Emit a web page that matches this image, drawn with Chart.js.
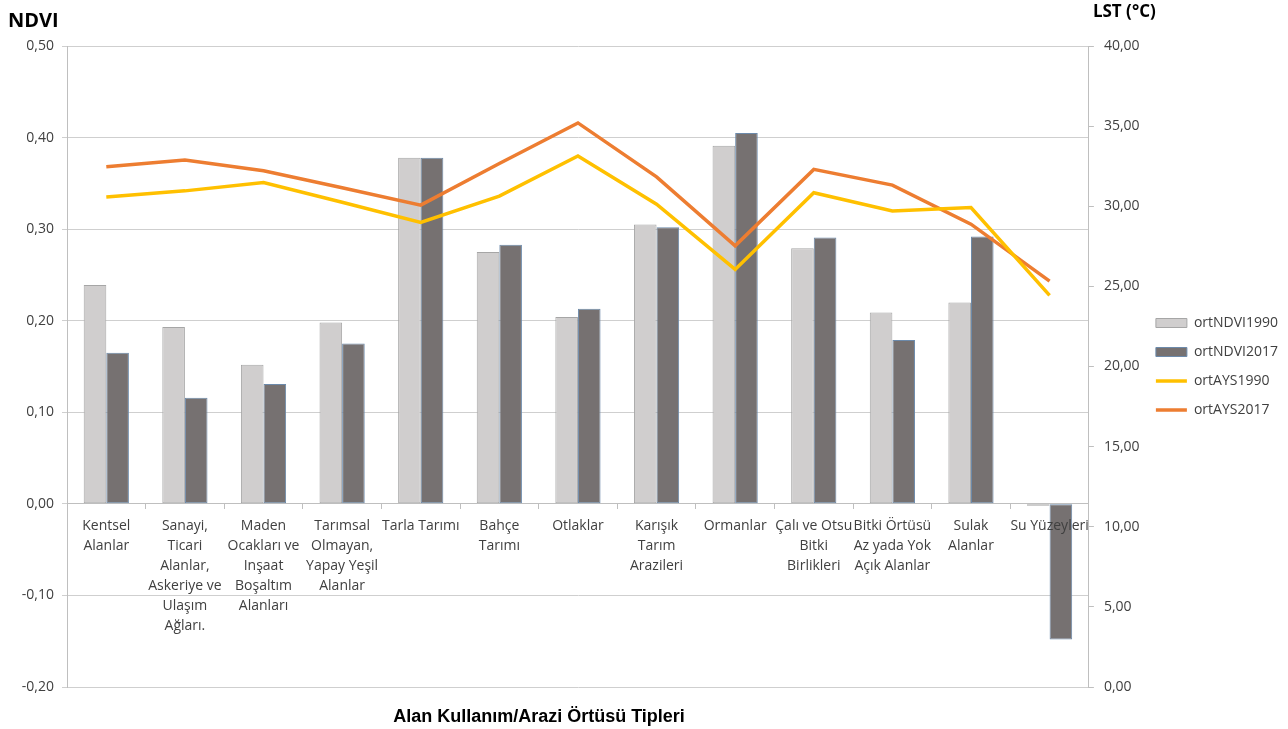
<!DOCTYPE html>
<html>
<head>
<meta charset="utf-8">
<script src="https://cdn.jsdelivr.net/npm/chart.js@4.4.1/dist/chart.umd.min.js"></script>
<style>
  html,body{margin:0;padding:0;background:#fff}
  #wrap{width:1288px;height:729px;position:relative}
</style>
</head>
<body>
<div id="wrap"><canvas id="chart"></canvas></div>
<script>
// ===== data =====
const categories=[
  ['Kentsel','Alanlar'],
  ['Sanayi,','Ticari','Alanlar,','Askeriye ve','Ulaşım','Ağları.'],
  ['Maden','Ocakları ve','Inşaat','Boşaltım','Alanları'],
  ['Tarımsal','Olmayan,','Yapay Yeşil','Alanlar'],
  ['Tarla Tarımı'],
  ['Bahçe','Tarımı'],
  ['Otlaklar'],
  ['Karışık','Tarım','Arazileri'],
  ['Ormanlar'],
  ['Çalı ve Otsu','Bitki','Birlikleri'],
  ['Bitki Örtüsü','Az yada Yok','Açık Alanlar'],
  ['Sulak','Alanlar'],
  ['Su Yüzeyleri']
];
const ndvi1990=[0.239,0.193,0.152,0.198,0.378,0.275,0.204,0.305,0.391,0.279,0.209,0.220,-0.002];
const ndvi2017=[0.165,0.116,0.131,0.175,0.378,0.283,0.213,0.302,0.405,0.291,0.179,0.292,-0.148];
const ays1990=[30.57,30.96,31.48,30.25,28.99,30.63,33.14,30.13,26.06,30.84,29.71,29.92,24.44];
const ays2017=[32.46,32.88,32.21,31.15,30.07,32.67,35.20,31.83,27.53,32.30,31.32,28.88,25.33];
const seriesNames=['ortNDVI1990','ortNDVI2017','ortAYS1990','ortAYS2017'];
const ndviTicks=[-0.20,-0.10,0.00,0.10,0.20,0.30,0.40,0.50];
const lstTicks=[0,5,10,15,20,25,30,35,40];
const leftTitle='NDVI';
const rightTitle='LST (°C)';
const bottomTitle='Alan Kullanım/Arazi Örtüsü Tipleri';

const comma=v=>v.toFixed(2).replace('.',',');
const GRID='#cfcfcf', AXIS='#bfbfbf', TXT='#404040';

// axis titles sit outside the plot like Excel's
const axisTitles={
  id:'axisTitles',
  afterDraw(chart){
    const{ctx,scales}=chart;
    ctx.save();
    ctx.fillStyle='#000';
    ctx.textBaseline='alphabetic';
    ctx.textAlign='left';
    ctx.font='bold 20px "Open Sans",sans-serif';
    ctx.fillText(leftTitle,8,27);
    ctx.font='bold 17px "Open Sans",sans-serif';
    ctx.fillText(rightTitle,scales.y1.left+4,17);
    ctx.font='bold 18px "Liberation Sans",Arial,sans-serif';
    ctx.textAlign='center';
    ctx.fillText(bottomTitle,539,722);
    ctx.restore();
  }
};

new Chart(document.getElementById('chart'),{
  data:{
    labels:categories,
    datasets:[
      {type:'bar',label:seriesNames[0],data:ndvi1990,yAxisID:'y',order:1,
        backgroundColor:'#d0cece',borderColor:'#a6a6a6',borderWidth:1,borderSkipped:false,
        barPercentage:1,categoryPercentage:0.575},
      {type:'bar',label:seriesNames[1],data:ndvi2017,yAxisID:'y',order:1,
        backgroundColor:'#767171',borderColor:'#6c8aab',borderWidth:1,borderSkipped:false,
        barPercentage:1,categoryPercentage:0.575},
      {type:'line',label:seriesNames[2],data:ays1990,yAxisID:'y1',order:0,
        borderColor:'#ffc000',backgroundColor:'#ffc000',borderWidth:3.5,pointRadius:0,tension:0},
      {type:'line',label:seriesNames[3],data:ays2017,yAxisID:'y1',order:0,
        borderColor:'#ed7d31',backgroundColor:'#ed7d31',borderWidth:3.5,pointRadius:0,tension:0}
    ]
  },
  plugins:[axisTitles],
  options:{
    responsive:true,maintainAspectRatio:false,animation:false,
    layout:{padding:{top:46,bottom:42,left:0,right:0}},
    plugins:{
      tooltip:{enabled:false},
      legend:{
        position:'right',
        labels:{
          usePointStyle:true,pointStyleWidth:31,boxWidth:31,boxHeight:9,padding:15,
          color:TXT,font:{family:'"Open Sans"',size:14},
          generateLabels(chart){
            const items=Chart.defaults.plugins.legend.labels.generateLabels(chart);
            items.sort((a,b)=>a.datasetIndex-b.datasetIndex);
            items.forEach(it=>{it.pointStyle=it.datasetIndex<2?'rect':'line';});
            return items;
          }
        }
      }
    },
    scales:{
      x:{
        position:{y:0},
        grid:{display:true,drawOnChartArea:false,offset:true,tickLength:5,color:AXIS},
        border:{color:AXIS},
        ticks:{z:1,autoSkip:false,maxRotation:0,minRotation:0,padding:7,color:TXT,
          font:{family:'"Open Sans"',size:14,lineHeight:1.43}}
      },
      y:{
        position:'left',min:-0.2,max:0.5,
        afterBuildTicks:s=>{s.ticks=ndviTicks.map(v=>({value:v}));},
        afterFit:s=>{s.width=67;},
        grid:{color:GRID,tickLength:5},
        border:{color:AXIS},
        ticks:{padding:8,color:TXT,font:{family:'"Open Sans"',size:14},callback:v=>comma(v)}
      },
      y1:{
        position:'right',min:0,max:40,
        afterBuildTicks:s=>{s.ticks=lstTicks.map(v=>({value:v}));},
        afterFit:s=>{s.width=52;},
        grid:{drawOnChartArea:false,tickLength:5,color:AXIS},
        border:{color:AXIS},
        ticks:{padding:10,color:TXT,font:{family:'"Open Sans"',size:14},callback:v=>comma(v)}
      }
    }
  }
});
</script>
</body>
</html>
